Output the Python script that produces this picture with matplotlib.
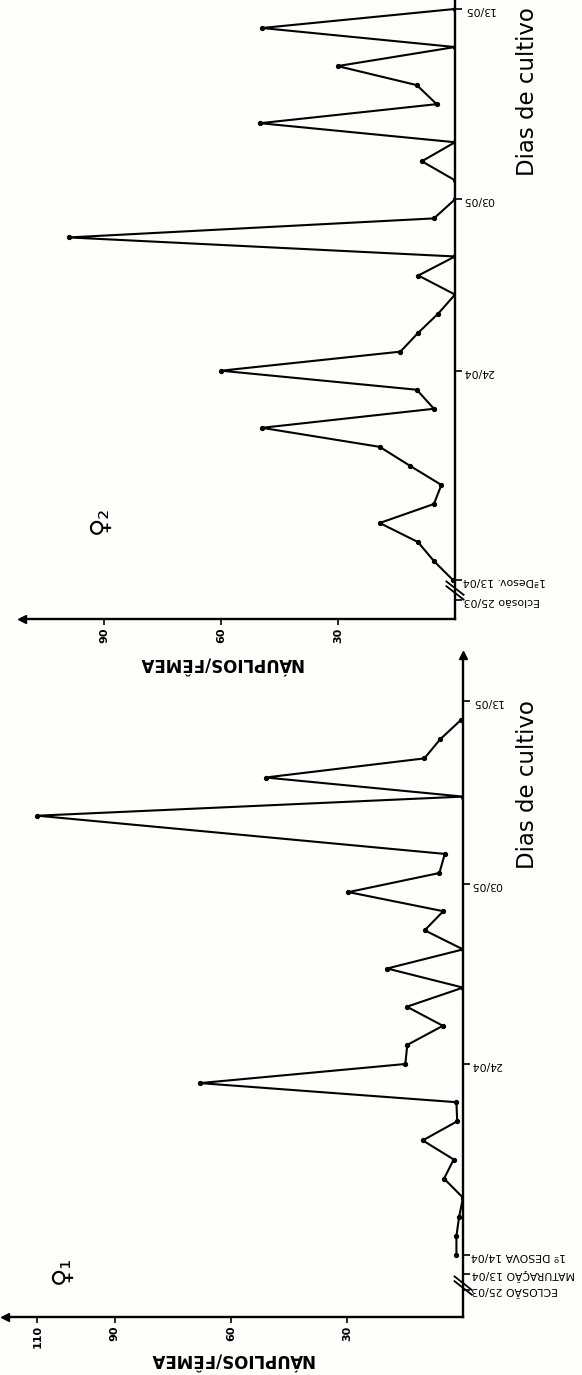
import matplotlib
matplotlib.use('Agg')
import matplotlib.pyplot as plt

W, H = 582, 1375

# ---- data ----
# days counted from first spawning (top: 13/04, bottom: 14/04)
top_days = list(range(31))
top_vals = [0.5, 5.4, 9.5, 19.3, 5.4, 3.5, 11.5, 19.3, 49.5, 5.4, 9.8, 60, 14, 9.4,
            4.3, 0, 9.4, 0, 99, 5.4, 0, 0, 8.5, 0, 50, 4.7, 9.8, 30.1, 0, 49.5, 0]

bot_days = list(range(22)) + list(range(23, 29))
bot_vals = [1.7, 1.7, 1.0, 0, 4.9, 2.4, 10.4, 1.5, 1.7, 68, 14.9, 14.4, 5.2, 14.5,
            0, 19.6, 0, 9.9, 5.1, 29.6, 6.1, 4.7,
            110, 0, 51, 10, 5.9, 0.6]

top_date_pos = [-1.05, 0, 11, 20, 30]
top_date_labels = ['Eclosão 25/03', '1ªDesov. 13/04', '24/04', '03/05', '13/05']
bot_date_pos = [-1.83, -1, 0, 10, 19.4, 29]
bot_date_labels = ['ECLOSÃO 25/03', 'MATURAÇÃO 13/04', '1º DESOVA 14/04',
                   '24/04', '03/05', '13/05']

top_val_ticks = [30, 60, 90]
bot_val_ticks = [30, 60, 90, 110]


def rect(l, t, r, b):
    return [l / W, 1 - b / H, (r - l) / W, (b - t) / H]


fig = plt.figure(figsize=(W / 100, H / 100), dpi=100, facecolor='#fefefb')


def panel(r, xmax, ylim, days, vals, dpos, dlabels, vticks, brk, arrow_top):
    ax = fig.add_axes(r)
    ax.patch.set_alpha(0)
    ax.plot(vals, days, color='k', lw=1.5, marker='o', ms=2.8, solid_joinstyle='miter')
    ax.set_xlim(xmax, 0)
    ax.set_ylim(*ylim)
    for s in ['top', 'left']:
        ax.spines[s].set_visible(False)
    for s in ['right', 'bottom']:
        ax.spines[s].set_linewidth(1.7)
    ax.yaxis.tick_right()
    ax.set_yticks(dpos, dlabels)
    ax.tick_params(axis='y', direction='out', length=5, width=1.2, labelsize=7.8,
                   labelrotation=180, pad=1)
    ax.set_xticks(vticks, [str(v) for v in vticks])
    ax.tick_params(axis='x', direction='out', length=4, width=1.2, labelsize=8,
                   labelrotation=90, pad=2)
    for t in ax.get_xticklabels():
        t.set_fontweight('bold')
    # arrows
    ax.plot([xmax], [ylim[0]], marker='<', color='k', ms=6, clip_on=False)
    if arrow_top:
        ax.plot([0], [ylim[1]], marker='^', color='k', ms=6, clip_on=False)
    # axis break
    ax.plot([2.2, -2.2], [brk + 0.35, brk - 0.35], color='k', lw=1.3, clip_on=False)
    ax.plot([2.2, -2.2], [brk + 0.1, brk - 0.6], color='k', lw=1.3, clip_on=False)
    return ax


panel(rect(22, -2, 455, 619), (455 - 22) / 3.9, (-(619 - 580) / 19.1, 584 / 19.1),
      top_days, top_vals, top_date_pos, top_date_labels, top_val_ticks, -0.42, False)
panel(rect(5, 655, 463, 1317), (463 - 5) / 3.87, (-(1317 - 1255) / 19.1, (1255 - 655) / 19.1),
      bot_days, bot_vals, bot_date_pos, bot_date_labels, bot_val_ticks, -1.47, True)

# labels
for x, y in [(220, 662), (231, 1358)]:
    fig.text(x / W, 1 - y / H, 'NÁUPLIOS/FÊMEA', rotation=180, ha='center', va='center',
             fontsize=12, fontweight='bold')
for y in [92, 785]:
    fig.text(527 / W, 1 - y / H, 'Dias de cultivo', rotation=90, ha='center', va='center',
             fontsize=16.5)
fig.text(100 / W, 1 - 520 / H, '♀₂', rotation=90, ha='center', va='center', fontsize=18)
fig.text(62 / W, 1 - 1270 / H, '♀₁', rotation=90, ha='center', va='center', fontsize=18)

fig.savefig('out.png', dpi=100, facecolor=fig.get_facecolor())
